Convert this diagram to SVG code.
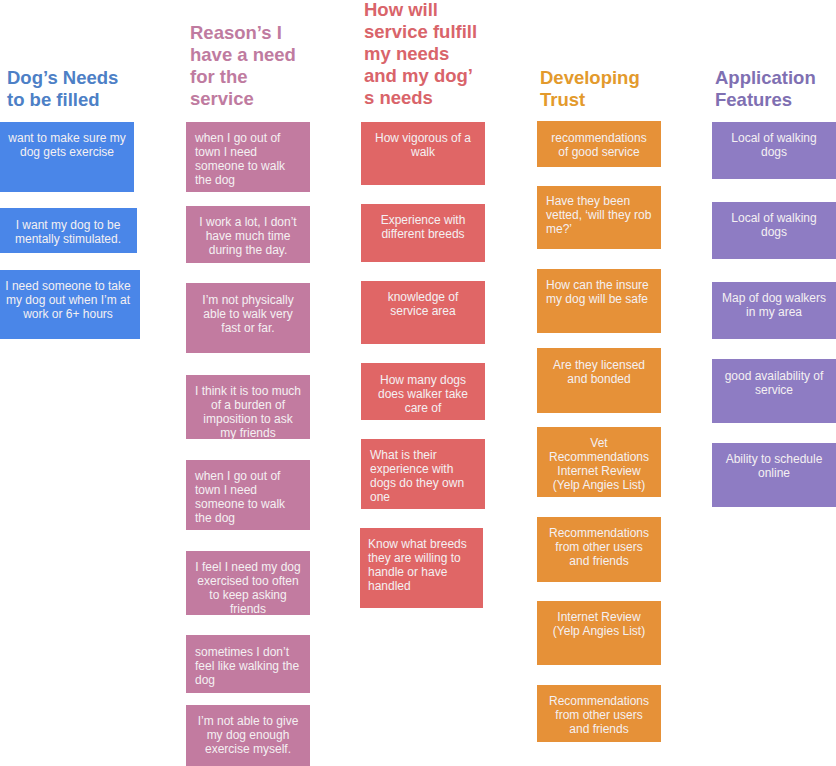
<svg xmlns="http://www.w3.org/2000/svg" width="836" height="766" viewBox="0 0 836 766">
<style>
.t{font-family:"Liberation Sans",Arial,sans-serif;font-weight:bold;font-size:18.5px}
.b{font-family:"Liberation Sans",Arial,sans-serif;font-size:12px;fill:#f4f0f2}
.c{text-anchor:middle}
.blue{fill:#4a86e8}.pink{fill:#c27ba0}.red{fill:#e06666}.orange{fill:#e69138}.purple{fill:#8e7cc3}
</style>
<rect width="836" height="766" fill="#ffffff"/>
<g id="connectors"></g>
<!-- Titles -->
<g id="title-dogs-needs"><text class="t" fill="#4d80c6"><tspan x="7" y="84">Dog’s Needs</tspan><tspan x="7" y="106">to be filled</tspan></text></g>
<g id="title-reasons"><text class="t" fill="#bf7ba0"><tspan x="190" y="39">Reason’s I</tspan><tspan x="190" y="61">have a need</tspan><tspan x="190" y="83">for the</tspan><tspan x="190" y="105">service</tspan></text></g>
<g id="title-how"><text class="t" fill="#d9646a"><tspan x="364" y="16">How will</tspan><tspan x="364" y="38">service fulfill</tspan><tspan x="364" y="60">my needs</tspan><tspan x="364" y="82">and my dog’</tspan><tspan x="364" y="104">s needs</tspan></text></g>
<g id="title-trust"><text class="t" fill="#e39a2c"><tspan x="540" y="84">Developing</tspan><tspan x="540" y="106">Trust</tspan></text></g>
<g id="title-features"><text class="t" fill="#7f70b2"><tspan x="715" y="84">Application</tspan><tspan x="715" y="106">Features</tspan></text></g>

<!-- Column 1 -->
<g id="n1a"><rect class="blue" x="0" y="122" width="134" height="70"/><text class="b c"><tspan x="67" y="142">want to make sure my</tspan><tspan x="67" y="156">dog gets exercise</tspan></text></g>
<g id="n1b"><rect class="blue" x="0" y="208" width="137" height="45"/><text class="b c"><tspan x="68" y="229">I want my dog to be</tspan><tspan x="68" y="243">mentally stimulated.</tspan></text></g>
<g id="n1c"><rect class="blue" x="0" y="270" width="140" height="69"/><text class="b c"><tspan x="68" y="290">I need someone to take</tspan><tspan x="68" y="304">my dog out when I’m at</tspan><tspan x="68" y="318">work or 6+ hours</tspan></text></g>

<!-- Column 2 -->
<g id="n2a"><rect class="pink" x="186" y="122" width="124" height="70"/><text class="b"><tspan x="195" y="142">when I go out of</tspan><tspan x="195" y="156">town I need</tspan><tspan x="195" y="170">someone to walk</tspan><tspan x="195" y="184">the dog</tspan></text></g>
<g id="n2b"><rect class="pink" x="186" y="206" width="124" height="57"/><text class="b c"><tspan x="248" y="226">I work a lot, I don’t</tspan><tspan x="248" y="240">have much time</tspan><tspan x="248" y="254">during the day.</tspan></text></g>
<g id="n2c"><rect class="pink" x="186" y="283" width="124" height="70"/><text class="b c"><tspan x="248" y="304">I’m not physically</tspan><tspan x="248" y="318">able to walk very</tspan><tspan x="248" y="332">fast or far.</tspan></text></g>
<g id="n2d"><rect class="pink" x="186" y="375" width="124" height="64"/><text class="b c"><tspan x="248" y="395">I think it is too much</tspan><tspan x="248" y="409">of a burden of</tspan><tspan x="248" y="423">imposition to ask</tspan><tspan x="248" y="437">my friends</tspan></text></g>
<g id="n2e"><rect class="pink" x="186" y="460" width="124" height="70"/><text class="b"><tspan x="195" y="480">when I go out of</tspan><tspan x="195" y="494">town I need</tspan><tspan x="195" y="508">someone to walk</tspan><tspan x="195" y="522">the dog</tspan></text></g>
<g id="n2f"><rect class="pink" x="186" y="551" width="124" height="64"/><text class="b c"><tspan x="248" y="571">I feel I need my dog</tspan><tspan x="248" y="585">exercised too often</tspan><tspan x="248" y="599">to keep asking</tspan><tspan x="248" y="613">friends</tspan></text></g>
<g id="n2g"><rect class="pink" x="186" y="635" width="124" height="58"/><text class="b"><tspan x="195" y="656">sometimes I don’t</tspan><tspan x="195" y="670">feel like walking the</tspan><tspan x="195" y="684">dog</tspan></text></g>
<g id="n2h"><rect class="pink" x="186" y="705" width="124" height="61"/><text class="b c"><tspan x="248" y="725">I’m not able to give</tspan><tspan x="248" y="739">my dog enough</tspan><tspan x="248" y="753">exercise myself.</tspan></text></g>

<!-- Column 3 -->
<g id="n3a"><rect class="red" x="361" y="122" width="124" height="63"/><text class="b c"><tspan x="423" y="142">How vigorous of  a</tspan><tspan x="423" y="156">walk</tspan></text></g>
<g id="n3b"><rect class="red" x="361" y="204" width="124" height="58"/><text class="b c"><tspan x="423" y="224">Experience with</tspan><tspan x="423" y="238">different breeds</tspan></text></g>
<g id="n3c"><rect class="red" x="361" y="281" width="124" height="63"/><text class="b c"><tspan x="423" y="301">knowledge of</tspan><tspan x="423" y="315">service area</tspan></text></g>
<g id="n3d"><rect class="red" x="361" y="363" width="124" height="57"/><text class="b c"><tspan x="423" y="384">How many dogs</tspan><tspan x="423" y="398">does walker take</tspan><tspan x="423" y="412">care of</tspan></text></g>
<g id="n3e"><rect class="red" x="361" y="439" width="124" height="70"/><text class="b"><tspan x="370" y="459">What is their</tspan><tspan x="370" y="473">experience with</tspan><tspan x="370" y="487">dogs do they own</tspan><tspan x="370" y="501">one</tspan></text></g>
<g id="n3f"><rect class="red" x="360" y="528" width="123" height="80"/><text class="b"><tspan x="368" y="548">Know what breeds</tspan><tspan x="368" y="562">they are willing to</tspan><tspan x="368" y="576">handle or have</tspan><tspan x="368" y="590">handled</tspan></text></g>

<!-- Column 4 -->
<g id="n4a"><rect class="orange" x="537" y="121" width="124" height="46"/><text class="b c"><tspan x="599" y="142">recommendations</tspan><tspan x="599" y="156">of good service</tspan></text></g>
<g id="n4b"><rect class="orange" x="537" y="186" width="124" height="63"/><text class="b"><tspan x="546" y="205">Have they been</tspan><tspan x="546" y="219">vetted, ‘will they rob</tspan><tspan x="546" y="233">me?’</tspan></text></g>
<g id="n4c"><rect class="orange" x="537" y="269" width="124" height="64"/><text class="b"><tspan x="546" y="289">How can the insure</tspan><tspan x="546" y="303">my dog will be safe</tspan></text></g>
<g id="n4d"><rect class="orange" x="537" y="348" width="124" height="65"/><text class="b c"><tspan x="599" y="369">Are they licensed</tspan><tspan x="599" y="383">and bonded</tspan></text></g>
<g id="n4e"><rect class="orange" x="537" y="427" width="124" height="70"/><text class="b c"><tspan x="599" y="447">Vet</tspan><tspan x="599" y="461">Recommendations</tspan><tspan x="599" y="475">Internet Review</tspan><tspan x="599" y="489">(Yelp Angies List)</tspan></text></g>
<g id="n4f"><rect class="orange" x="537" y="517" width="124" height="65"/><text class="b c"><tspan x="599" y="537">Recommendations</tspan><tspan x="599" y="551">from other users</tspan><tspan x="599" y="565">and friends</tspan></text></g>
<g id="n4g"><rect class="orange" x="537" y="601" width="124" height="64"/><text class="b c"><tspan x="599" y="621">Internet Review</tspan><tspan x="599" y="635">(Yelp Angies List)</tspan></text></g>
<g id="n4h"><rect class="orange" x="537" y="685" width="124" height="57"/><text class="b c"><tspan x="599" y="705">Recommendations</tspan><tspan x="599" y="719">from other users</tspan><tspan x="599" y="733">and friends</tspan></text></g>

<!-- Column 5 -->
<g id="n5a"><rect class="purple" x="712" y="122" width="124" height="57"/><text class="b c"><tspan x="774" y="142">Local of walking</tspan><tspan x="774" y="156">dogs</tspan></text></g>
<g id="n5b"><rect class="purple" x="712" y="202" width="124" height="57"/><text class="b c"><tspan x="774" y="222">Local of walking</tspan><tspan x="774" y="236">dogs</tspan></text></g>
<g id="n5c"><rect class="purple" x="712" y="282" width="124" height="57"/><text class="b c"><tspan x="774" y="302">Map of dog walkers</tspan><tspan x="774" y="316">in my area</tspan></text></g>
<g id="n5d"><rect class="purple" x="712" y="359" width="124" height="64"/><text class="b c"><tspan x="774" y="380">good availability of</tspan><tspan x="774" y="394">service</tspan></text></g>
<g id="n5e"><rect class="purple" x="712" y="443" width="124" height="64"/><text class="b c"><tspan x="774" y="463">Ability to schedule</tspan><tspan x="774" y="477">online</tspan></text></g>
</svg>
